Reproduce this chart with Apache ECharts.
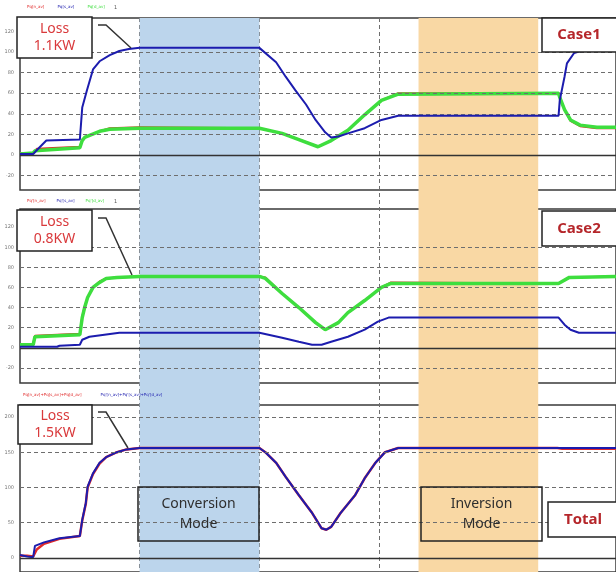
<!DOCTYPE html>
<html><head><meta charset="utf-8">
<script src="https://cdn.jsdelivr.net/npm/echarts@6/dist/echarts.min.js"></script>
<style>html,body{margin:0;padding:0;background:#fff}#c{width:616px;height:572px}</style>
</head><body><div id="c"></div><script>
// ---- data (time in divisions, power values) ----
const convBand = [1.0, 2.0];
const invBand = [3.33, 4.33];

const caseTicks = [-20, 0, 20, 40, 60, 80, 100, 120];
const caseGrid = [-20, 20, 40, 60, 80, 100];
const totalTicks = [0, 50, 100, 150, 200];
const totalGrid = [50, 100, 150, 200];

const c1BlueT = [0,0.11,0.16,0.22,0.5,0.52,0.56,0.61,0.665,0.75,0.83,0.91,1.0,2.0,2.015,2.14,2.22,2.30,2.39,2.47,2.55,2.60,2.66,2.74,2.88,3.02,3.16,4.50,4.51,4.55,4.57,4.63,4.71,4.82,4.98];
const c1BlueV = [1,1,7,14,15,46,63,83,91,97,101,103,104,104,103,90,76,63,49,34,22,17,18,21,26,34,38,38,53,76,89,99,102,103,104];
const c1GreenT = [0,0.11,0.125,0.5,0.52,0.54,0.665,0.75,1.0,2.0,2.19,2.33,2.49,2.60,2.74,2.88,3.02,3.16,4.50,4.51,4.55,4.60,4.68,4.82,4.98];
const c1GreenV = [1,2,4,7,14,17,23,25,26,26,21,15,8,14,24,39,53,59,60,56,44,34,29,27,27];
const c1RedT = [0,0.11,0.14,0.5,0.52,0.56,0.665,0.75,1.0,2.0,2.19,2.33,2.49,2.60,2.74,2.88,3.02,3.16,4.50,4.51,4.55,4.60,4.68,4.82,4.98];
const c1RedV = [2,2,6,8,15,18,23,26,27,26,21,15,8,14,24,39,53,60,60,56,44,33,28,26,26];

const c2GreenT = [0,0.11,0.125,0.5,0.52,0.54,0.565,0.61,0.665,0.72,0.81,1.0,2.0,2.05,2.19,2.33,2.47,2.55,2.66,2.74,2.88,3.02,3.10,4.50,4.59,4.98];
const c2GreenV = [3,3,11,13,30,40,50,60,65,69,70,71,71,69,54,40,25,18,25,35,47,60,64,64,70,71];
const c2RedV = [3,4,12,14,31,41,50,60,66,69,70,71,71,70,54,40,25,18,25,35,47,60,65,64,70,71];
const c2BlueT = [0,0.31,0.33,0.5,0.52,0.58,0.83,1.0,2.0,2.19,2.33,2.44,2.52,2.60,2.74,2.88,2.99,3.08,4.50,4.55,4.60,4.67,4.98];
const c2BlueV = [1,1,2,3,8,11,15,15,15,10,6,3,3,6,11,18,26,30,30,23,18,15,15];

const totBlueT = [0,0.06,0.11,0.125,0.2,0.33,0.5,0.52,0.55,0.565,0.61,0.665,0.72,0.81,0.89,1.0,2.0,2.05,2.14,2.22,2.33,2.44,2.52,2.56,2.60,2.68,2.80,2.88,2.97,3.05,3.16,4.98];
const totBlueV = [4,2,1,17,22,28,31,54,78,101,120,135,143,150,154,156,156,150,135,115,89,64,42,40,44,64,89,113,135,150,156,156];
const totRedT = [0,0.06,0.11,0.14,0.2,0.33,0.5,0.52,0.55,0.565,0.61,0.665,0.72,0.81,0.89,1.0,2.0,2.05,2.14,2.22,2.33,2.44,2.52,2.56,2.60,2.68,2.80,2.88,2.97,3.05,3.16,4.49,4.50,4.53,4.98];
const totRedV = [3,3,2,12,20,27,31,53,77,100,119,134,143,150,154,156,156,150,135,115,89,64,42,40,44,64,89,113,135,150,156,156,158,155,155];

const legend1 = ['Pq[n_av]', 'Pq[s_av]', 'Pq[d_av]'];
const legend2 = ["Pq'[n_av]", "Pq'[s_av]", "Pq'[d_av]"];
const legend3 = ['Pq[n_av]+Pq[s_av]+Pq[d_av]', "Pq'[n_av]+Pq'[s_av]+Pq'[d_av]"];

// ---- helpers ----
const zip = (t, v) => t.map((x, i) => [x, v[i]]);
const RED = '#e02a2a', BLUE = '#1c1cae', GREEN = '#3ede3e';
const XMAX = 4.98;
const L = 20, R = -3;
const grids = [
  {left: L, right: R, top: 18, height: 172},
  {left: L, right: R, top: 209, height: 174},
  {left: L, right: R, top: 405, height: 172},
];
const yRanges = [[-34, 133], [-35, 138], [-20, 217]];
const tickSets = [caseTicks, caseTicks, totalTicks];
const gridSets = [caseGrid, caseGrid, totalGrid];

const legendBase = {icon: 'none', itemWidth: 0, itemHeight: 0, padding: 0, textStyle: {fontSize: 4, fontFamily: 'DejaVu Sans'}};

const option = {
  animation: false,
  backgroundColor: '#fff',
  grid: [
    {left: L, right: R, top: 18, bottom: 0, show: false},
    ...grids.map(g => Object.assign({show: true, borderColor: '#3a3a3a', borderWidth: 1.5, backgroundColor: 'transparent'}, g))
  ],
  xAxis: [
    {type: 'value', gridIndex: 0, min: 0, max: XMAX, interval: 1,
     axisLine: {show: false}, axisTick: {show: false}, axisLabel: {show: false},
     splitLine: {show: true, showMinLine: false, showMaxLine: false, lineStyle: {type: [4, 3], color: '#6e6e6e', width: 1}}},
    ...[1, 2, 3].map(i => ({type: 'value', gridIndex: i, min: 0, max: XMAX, show: false, splitLine: {show: false}}))
  ],
  yAxis: [
    {type: 'value', gridIndex: 0, min: 0, max: 1, show: false, splitLine: {show: false}},
    ...[0, 1, 2].map(i => ({
      type: 'value', gridIndex: i + 1, min: yRanges[i][0], max: yRanges[i][1],
      axisLine: {show: false}, axisTick: {show: false}, splitLine: {show: false},
      axisLabel: {customValues: tickSets[i], fontSize: 5, color: '#777', margin: 6, fontFamily: 'DejaVu Sans'}
    }))
  ],
  legend: [
    Object.assign({top: 5, left: 22, itemGap: 8,
     data: [{name: legend1[0], textStyle: {color: RED}}, {name: legend1[1], textStyle: {color: BLUE}}, {name: legend1[2], textStyle: {color: GREEN}}]}, legendBase),
    Object.assign({top: 199, left: 22, itemGap: 6,
     data: [{name: legend2[0], textStyle: {color: RED}}, {name: legend2[1], textStyle: {color: BLUE}}, {name: legend2[2], textStyle: {color: GREEN}}]}, legendBase),
    Object.assign({top: 393, left: 18, itemGap: 14,
     data: [{name: legend3[0], textStyle: {color: RED}}, {name: legend3[1], textStyle: {color: BLUE}}]}, legendBase)
  ],
  series: [
    {type: 'line', name: 'bands', xAxisIndex: 0, yAxisIndex: 0, data: [], z: -1, silent: true,
     markArea: {silent: true, data: [
       [{xAxis: convBand[0], itemStyle: {color: '#bcd5ec'}}, {xAxis: convBand[1]}],
       [{xAxis: invBand[0], itemStyle: {color: '#f9d8a4'}}, {xAxis: invBand[1]}]
     ]}},
    ...[0, 1, 2].map(i => ({
      type: 'line', name: 'grid' + i, xAxisIndex: i + 1, yAxisIndex: i + 1, data: [], z: 1, silent: true,
      markLine: {silent: true, symbol: ['none', 'none'], label: {show: false},
        data: [
          ...gridSets[i].map(v => ({yAxis: v, lineStyle: {type: [4, 3], color: '#6e6e6e', width: 1}})),
          {yAxis: 0, lineStyle: {type: 'solid', color: '#333', width: 1.3}}
        ]}
    })),
    {type: 'line', name: legend1[0], xAxisIndex: 1, yAxisIndex: 1, data: zip(c1RedT, c1RedV), showSymbol: false, symbol: 'none', z: 3, lineStyle: {color: RED, width: 2}, itemStyle: {color: RED}},
    {type: 'line', name: legend1[2], xAxisIndex: 1, yAxisIndex: 1, data: zip(c1GreenT, c1GreenV), showSymbol: false, symbol: 'none', z: 4, lineStyle: {color: GREEN, width: 3.5}, itemStyle: {color: GREEN}},
    {type: 'line', name: legend1[1], xAxisIndex: 1, yAxisIndex: 1, data: zip(c1BlueT, c1BlueV), showSymbol: false, symbol: 'none', z: 5, lineStyle: {color: BLUE, width: 2}, itemStyle: {color: BLUE}},

    {type: 'line', name: legend2[0], xAxisIndex: 2, yAxisIndex: 2, data: zip(c2GreenT, c2RedV), showSymbol: false, symbol: 'none', z: 3, lineStyle: {color: RED, width: 2}, itemStyle: {color: RED}},
    {type: 'line', name: legend2[2], xAxisIndex: 2, yAxisIndex: 2, data: zip(c2GreenT, c2GreenV), showSymbol: false, symbol: 'none', z: 4, lineStyle: {color: GREEN, width: 3.5}, itemStyle: {color: GREEN}},
    {type: 'line', name: legend2[1], xAxisIndex: 2, yAxisIndex: 2, data: zip(c2BlueT, c2BlueV), showSymbol: false, symbol: 'none', z: 5, lineStyle: {color: BLUE, width: 2}, itemStyle: {color: BLUE}},

    {type: 'line', name: legend3[0], xAxisIndex: 3, yAxisIndex: 3, data: zip(totRedT, totRedV), showSymbol: false, symbol: 'none', z: 3, lineStyle: {color: RED, width: 2.5}, itemStyle: {color: RED}},
    {type: 'line', name: legend3[1], xAxisIndex: 3, yAxisIndex: 3, data: zip(totBlueT, totBlueV), showSymbol: false, symbol: 'none', z: 4, lineStyle: {color: BLUE, width: 2}, itemStyle: {color: BLUE}}
  ],
  graphic: [
    // legend trailing markers
    {type: 'text', left: 114, top: 5, style: {text: '1', fontSize: 5, fill: '#555', fontFamily: 'DejaVu Sans'}},
    {type: 'text', left: 114, top: 199, style: {text: '1', fontSize: 5, fill: '#555', fontFamily: 'DejaVu Sans'}},
    {type: 'text', left: 207, top: 393, style: {text: '1', fontSize: 5, fill: '#555', fontFamily: 'DejaVu Sans'}},
    // Loss boxes
    {type: 'rect', shape: {x: 17, y: 17, width: 75, height: 41}, style: {fill: '#fff', stroke: '#222', lineWidth: 1.5}, z: 100},
    {type: 'text', x: 54.5, y: 37.5, z: 101, style: {text: 'Loss\n1.1KW', align: 'center', verticalAlign: 'middle', fontSize: 14, lineHeight: 17, fill: '#d9393b', fontFamily: 'Noto Sans'}},
    {type: 'polyline', shape: {points: [[98, 25], [106, 25], [131, 48]]}, style: {stroke: '#333', lineWidth: 1.5, fill: null}, z: 100},
    {type: 'rect', shape: {x: 17, y: 210, width: 75, height: 41}, style: {fill: '#fff', stroke: '#222', lineWidth: 1.5}, z: 100},
    {type: 'text', x: 54.5, y: 230.5, z: 101, style: {text: 'Loss\n0.8KW', align: 'center', verticalAlign: 'middle', fontSize: 14, lineHeight: 17, fill: '#d9393b', fontFamily: 'Noto Sans'}},
    {type: 'polyline', shape: {points: [[98, 218], [106, 218], [132, 275]]}, style: {stroke: '#333', lineWidth: 1.5, fill: null}, z: 100},
    {type: 'rect', shape: {x: 18, y: 405, width: 74, height: 39}, style: {fill: '#fff', stroke: '#222', lineWidth: 1.5}, z: 100},
    {type: 'text', x: 55, y: 424.5, z: 101, style: {text: 'Loss\n1.5KW', align: 'center', verticalAlign: 'middle', fontSize: 14, lineHeight: 17, fill: '#d9393b', fontFamily: 'Noto Sans'}},
    {type: 'polyline', shape: {points: [[98, 412], [106, 412], [128, 448]]}, style: {stroke: '#333', lineWidth: 1.5, fill: null}, z: 100},
    // Case labels
    {type: 'rect', shape: {x: 542, y: 18, width: 80, height: 34}, style: {fill: '#fff', stroke: '#222', lineWidth: 1.5}, z: 100},
    {type: 'text', x: 579, y: 35, z: 101, style: {text: 'Case1', align: 'center', verticalAlign: 'middle', fontSize: 15, fontWeight: 'bold', fill: '#b5262a', fontFamily: 'Open Sans'}},
    {type: 'rect', shape: {x: 542, y: 211, width: 80, height: 35}, style: {fill: '#fff', stroke: '#222', lineWidth: 1.5}, z: 100},
    {type: 'text', x: 579, y: 228.5, z: 101, style: {text: 'Case2', align: 'center', verticalAlign: 'middle', fontSize: 15, fontWeight: 'bold', fill: '#b5262a', fontFamily: 'Open Sans'}},
    {type: 'rect', shape: {x: 548, y: 502, width: 75, height: 35}, style: {fill: '#fff', stroke: '#222', lineWidth: 1.5}, z: 100},
    {type: 'text', x: 583, y: 519.5, z: 101, style: {text: 'Total', align: 'center', verticalAlign: 'middle', fontSize: 15, fontWeight: 'bold', fill: '#b5262a', fontFamily: 'Open Sans'}},
    // Mode boxes
    {type: 'rect', shape: {x: 138, y: 487, width: 121, height: 54}, style: {fill: null, stroke: '#222', lineWidth: 1.5}, z: 100},
    {type: 'text', x: 198.5, y: 514, z: 101, style: {text: 'Conversion\nMode', align: 'center', verticalAlign: 'middle', fontSize: 14, lineHeight: 20, fill: '#2e2e2e', fontFamily: 'Noto Sans'}},
    {type: 'rect', shape: {x: 421, y: 487, width: 121, height: 54}, style: {fill: null, stroke: '#222', lineWidth: 1.5}, z: 100},
    {type: 'text', x: 481.5, y: 514, z: 101, style: {text: 'Inversion\nMode', align: 'center', verticalAlign: 'middle', fontSize: 14, lineHeight: 20, fill: '#2e2e2e', fontFamily: 'Noto Sans'}}
  ]
};
const chart = echarts.init(document.getElementById('c'), null, {renderer: 'canvas'});
chart.setOption(option);
</script></body></html>
